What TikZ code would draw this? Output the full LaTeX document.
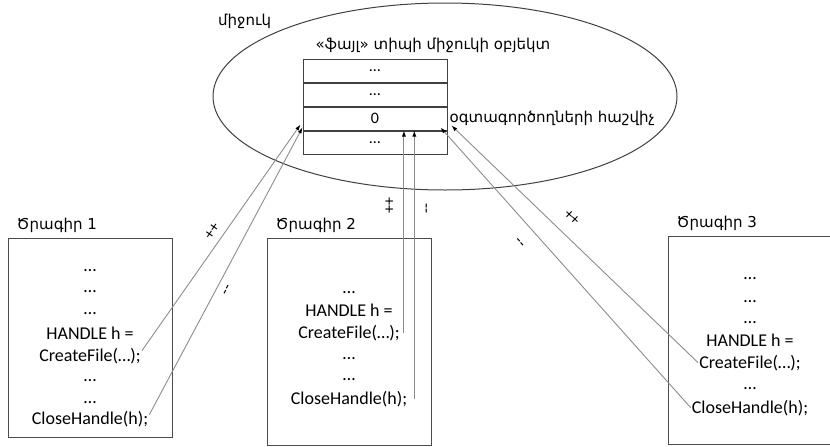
\documentclass[tikz,border=0pt]{standalone}
\usepackage{fontspec}
\setmainfont{Carlito}
\newfontfamily\armfont{DejaVu Sans}
\usetikzlibrary{positioning,arrows.meta}

\newcommand\codefont{\fontsize{18}{22}\selectfont}

\tikzset{
  prog/.style={draw=black!70, line width=1pt, minimum width=164pt, inner sep=0pt},
  cell/.style={draw=black!75, line width=1pt, minimum width=144pt, minimum height=23pt,
    inner sep=0pt, font=\fontsize{16}{18}\selectfont},
  code/.style={font=\codefont, anchor=base, inner sep=1pt},
  arm/.style={font=\armfont\fontsize{15}{18}\selectfont, inner sep=1pt},
  tick/.style={font=\fontsize{16}{18}\selectfont, inner sep=2pt},
  conn/.style={draw=black!45, line width=0.9pt, -{Latex[length=6pt,width=4pt,color=black]}}
}

\begin{document}
\begin{tikzpicture}[x=1pt,y=-1pt]
  \useasboundingbox (0,0) rectangle (830,447);

  % kernel
  \draw[black!75, line width=1pt] (445,96.5) ellipse [x radius=232pt, y radius=93.5pt];
  \node[arm, anchor=west] (kernel) at (217,21) {միջուկ};

  % file object
  \node[cell] (row1) at (375,70.5) {…};
  \node[cell, below=0pt of row1] (row2) {…};
  \node[cell, below=0pt of row2] (row3) {0};
  \node[cell, below=0pt of row3] (row4) {…};
  \node[arm] (objlbl) at (433,45) {«ֆայլ» տիպի միջուկի օբյեկտ};
  \node[arm, right=1pt of row3] (cntlbl) {օգտագործողների հաշվիչ};

  % program 1
  \node[prog, minimum height=199pt] (prog1) at (90,337.5) {};
  \node[arm, above right=4pt and 8pt of prog1.north west] (name1) {Ծրագիր 1};
  \foreach \y [count=\i] in {271,292,314,381,403}
    \node[code] (dotA\i) at (90,\y) {…};
  \node[code] (hdl1) at (90,339) {HANDLE h =};
  \node[code] (cf1) at (90,361) {CreateFile(…);};
  \node[code] (ch1) at (90,424) {CloseHandle(h);};

  % program 2
  \node[prog, minimum height=207pt] (prog2) at (349,341.5) {};
  \node[arm, above right=4pt and 8pt of prog2.north west] (name2) {Ծրագիր 2};
  \foreach \y [count=\i] in {293,359,380}
    \node[code] (dotB\i) at (349,\y) {…};
  \node[code] (hdl2) at (349,316) {HANDLE h =};
  \node[code] (cf2) at (349,338) {CreateFile(…);};
  \node[code] (ch2) at (349,404) {CloseHandle(h);};

  % program 3
  \node[prog, minimum height=208pt] (prog3) at (750,340) {};
  \node[arm, above right=4pt and 8pt of prog3.north west] (name3) {Ծրագիր 3};
  \foreach \y [count=\i] in {279,302,323,389}
    \node[code] (dotC\i) at (750,\y) {…};
  \node[code] (hdl3) at (750,346) {HANDLE h =};
  \node[code] (cf3) at (750,368) {CreateFile(…);};
  \node[code] (ch3) at (750,413) {CloseHandle(h);};

  % counter changes
  \draw[conn] ([yshift=5pt]cf1.east) -- node[tick, sloped, above=4pt, pos=0.5] (inc1) {++}
    ([xshift=-2pt,yshift=6pt]row3.south west);
  \draw[conn] ([yshift=4pt]ch1.east) -- node[tick, sloped, below=6pt, pos=0.45] (dec1) {-{}-}
    ([yshift=3pt]row3.south west);
  \draw[conn] ([xshift=3pt]cf2.east) -- node[tick, sloped, above=7pt, pos=0.63] (inc2) {++}
    ([xshift=3pt]cf2.east |- row3.south);
  \draw[conn] ([xshift=6pt]ch2.east) -- node[tick, sloped, below=9pt, pos=0.71] (dec2) {-{}-}
    ([xshift=6pt]ch2.east |- row3.south);
  \draw[conn] (cf3.west) -- node[tick, sloped, above=10pt, pos=0.56] (inc3) {++}
    ([xshift=4pt,yshift=5pt]row3.south east);
  \draw[conn] (ch3.west) -- node[tick, sloped, below=14pt, pos=0.63] (dec3) {-{}-}
    ([xshift=-7pt,yshift=3pt]row3.south east);
\end{tikzpicture}
\end{document}
